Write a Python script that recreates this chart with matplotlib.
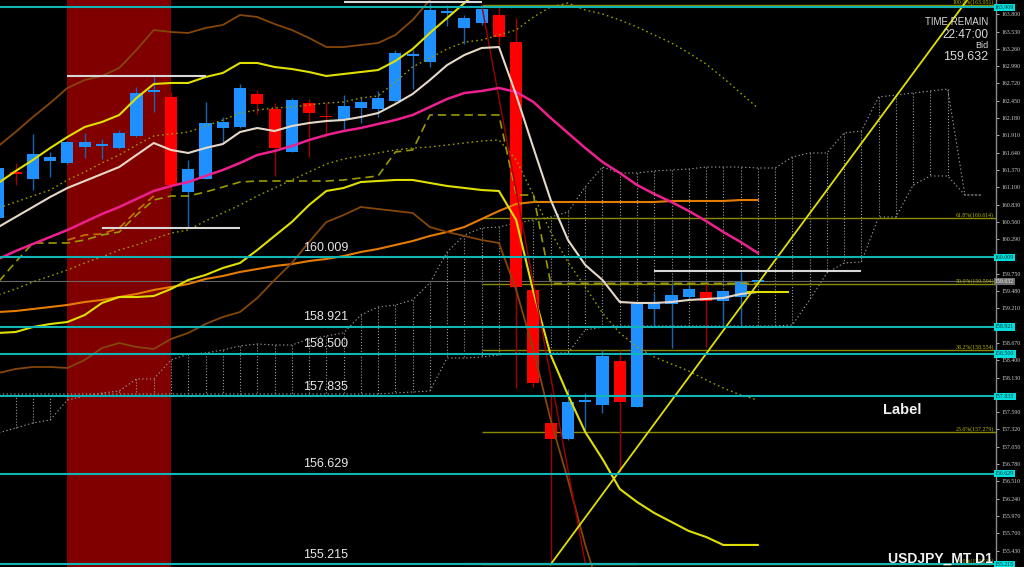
import matplotlib.pyplot as plt
from matplotlib.transforms import blended_transform_factory

plt.rcParams['font.family'] = ['Liberation Sans', 'DejaVu Sans']

# daily bars, USDJPY (prices)
bar_open = [160.620, 161.338, 161.229, 161.510, 161.479, 161.729, 161.744, 161.713, 161.900, 162.587,
            162.509, 161.026, 161.229, 162.025, 162.041, 162.556, 162.322, 161.651, 162.415, 162.200,
            162.150, 162.337, 162.322, 162.447, 163.149, 163.055, 163.820, 163.586, 163.664, 163.789,
            163.367, 159.497, 157.421, 157.171, 157.749, 157.702, 158.389, 157.671, 159.200, 159.278,
            159.387, 159.466, 159.325, 159.387, 159.622]
bar_high = [161.448, 161.479, 161.932, 161.651, 161.822, 161.947, 161.853, 161.994, 162.665, 162.821,
            162.587, 161.526, 162.431, 162.197, 162.712, 162.618, 162.415, 162.493, 162.478, 162.431,
            162.540, 162.509, 162.603, 163.243, 163.243, 163.976, 163.945, 163.789, 163.898, 163.914,
            163.742, 159.528, 157.889, 157.951, 157.889, 158.560, 158.560, 159.309, 159.450, 159.600,
            159.575, 159.606, 159.497, 159.778, 159.645]
bar_low = [160.558, 161.136, 161.057, 161.260, 161.463, 161.557, 161.541, 161.697, 161.885, 162.275,
           161.057, 160.480, 161.229, 161.791, 162.025, 162.244, 161.276, 161.651, 161.573, 161.885,
           162.010, 162.103, 162.197, 162.431, 162.634, 162.977, 163.617, 163.336, 163.633, 163.321,
           157.967, 157.983, 155.215, 157.155, 157.312, 157.577, 156.656, 157.671, 158.935, 158.591,
           159.341, 158.607, 158.935, 158.919, 159.610]
bar_close = [161.401, 161.307, 161.619, 161.573, 161.807, 161.807, 161.750, 161.947, 162.571, 162.603,
             161.136, 161.385, 162.103, 162.119, 162.650, 162.400, 161.713, 162.462, 162.259, 162.190,
             162.369, 162.431, 162.493, 163.196, 163.158, 163.867, 163.851, 163.742, 163.883, 163.446,
             159.543, 158.045, 157.171, 157.749, 157.780, 158.467, 157.749, 159.309, 159.294, 159.419,
             159.512, 159.325, 159.481, 159.622, 159.632]

# moving averages
ma_pink = [159.981, 160.105, 160.215, 160.324, 160.433, 160.558, 160.683, 160.792, 160.917, 161.042,
           161.120, 161.182, 161.276, 161.370, 161.479, 161.604, 161.666, 161.744, 161.838, 161.916,
           161.978, 162.025, 162.088, 162.150, 162.228, 162.353, 162.478, 162.571, 162.603, 162.650,
           162.587, 162.431, 162.181, 161.947, 161.713, 161.495, 161.323, 161.136, 160.995, 160.870,
           160.730, 160.574, 160.402, 160.246, 160.074]
ma_fast = [160.480, 160.636, 160.792, 160.948, 161.089, 161.198, 161.307, 161.416, 161.604, 161.791,
           161.682, 161.635, 161.713, 161.775, 161.963, 162.025, 161.978, 162.056, 162.103, 162.134,
           162.150, 162.197, 162.259, 162.400, 162.556, 162.774, 163.008, 163.165, 163.274, 163.289,
           162.540, 161.713, 160.901, 160.277, 159.887, 159.653, 159.309, 159.294, 159.294, 159.309,
           159.341, 159.356, 159.372, 159.434, 159.466]
ma_long = [159.153, 159.169, 159.200, 159.231, 159.263, 159.309, 159.341, 159.387, 159.434, 159.497,
           159.543, 159.590, 159.668, 159.715, 159.778, 159.824, 159.871, 159.902, 159.949, 159.981,
           160.027, 160.090, 160.137, 160.199, 160.261, 160.340, 160.402, 160.480, 160.605, 160.730,
           160.839, 160.870, 160.870, 160.870, 160.870, 160.870, 160.870, 160.870, 160.870, 160.886,
           160.886, 160.886, 160.886, 160.901, 160.901]

# bands
band1_up = [160.777, 160.870, 160.964, 161.057, 161.214, 161.338, 161.479, 161.604, 161.760, 161.900,
            161.932, 161.963, 162.056, 162.150, 162.259, 162.306, 162.337, 162.353, 162.384, 162.415,
            162.431, 162.493, 162.525, 162.743, 162.977, 163.118, 163.258, 163.367, 163.399, 163.477,
            163.555, 163.758, 163.914, 163.976, 163.867, 163.804, 163.711, 163.602, 163.477, 163.352,
            163.196, 163.024, 162.806, 162.571, 162.337]
band1_dn = [159.419, 159.512, 159.622, 159.715, 159.809, 159.918, 160.012, 160.121, 160.199, 160.293,
            160.386, 160.433, 160.574, 160.698, 160.823, 160.964, 161.089, 161.214, 161.338, 161.463,
            161.541, 161.588, 161.635, 161.682, 161.713, 161.729, 161.760, 161.791, 161.822, 161.838,
            161.526, 160.979, 160.402, 159.934, 159.543, 159.138, 158.826, 158.607, 158.451, 158.342,
            158.232, 158.092, 157.967, 157.858, 157.780]
band2_up = [161.167, 161.354, 161.526, 161.713, 161.885, 162.041, 162.119, 162.228, 162.493, 162.712,
            162.728, 162.728, 162.821, 162.884, 163.040, 163.040, 162.977, 162.946, 162.899, 162.837,
            162.868, 162.899, 162.930, 163.071, 163.258, 163.508, 163.742, 163.976, 164.210]
band2_dn = [158.826, 158.841, 158.919, 158.966, 158.997, 159.106, 159.294, 159.387, 159.387, 159.403,
            159.512, 159.653, 159.731, 159.840, 159.918, 160.121, 160.340, 160.558, 160.823, 161.042,
            161.089, 161.182, 161.198, 161.214, 161.214, 161.167, 161.120, 161.089, 161.057, 161.042,
            160.589, 159.466, 158.482, 157.858, 157.280, 156.859, 156.391, 156.188, 156.016, 155.876,
            155.735, 155.642, 155.517, 155.517, 155.517]
band3_up = [161.744, 161.963, 162.197, 162.415, 162.650, 162.774, 162.837, 162.962, 163.243, 163.555,
            163.524, 163.508, 163.586, 163.633, 163.789, 163.758, 163.648, 163.555, 163.430, 163.289,
            163.289, 163.321, 163.352, 163.477, 163.711, 164.023, 164.335]
band3_dn = [158.201, 158.264, 158.295, 158.295, 158.279, 158.404, 158.591, 158.669, 158.607, 158.576,
            158.732, 158.826, 158.966, 159.075, 159.153, 159.372, 159.653, 159.918, 160.246, 160.558,
            160.667, 160.792, 160.761, 160.730, 160.699, 160.480, 160.402, 160.340, 160.277, 160.230,
            159.497, 158.560, 157.468, 156.531, 155.517, 154.658]

# ichimoku
kijun = [159.622, 159.934, 160.230, 160.230, 160.230, 160.277, 160.355, 160.402, 160.667, 160.901,
         160.964, 160.964, 161.026, 161.104, 161.182, 161.198, 161.198, 161.198, 161.198, 161.198,
         161.214, 161.245, 161.276, 161.651, 161.682, 162.228, 162.228, 162.228, 162.228, 162.228,
         160.979, 160.979, 159.600, 159.600, 159.600, 159.600, 159.600, 159.600, 159.600, 159.600,
         159.600, 159.600, 159.600, 159.600, 159.600]
tenkan_idx = [4, 5, 6, 7, 8, 9]
tenkan = [160.277, 160.355, 160.371, 160.464, 160.730, 160.964]
span_a = [157.265, 157.343, 157.421, 157.468, 157.780, 157.842, 157.889, 157.920, 158.108, 158.108,
          158.404, 158.498, 158.513, 158.560, 158.623, 158.654, 158.638, 158.638, 158.732, 158.779,
          158.826, 159.106, 159.231, 159.263, 159.341, 159.606, 160.090, 160.355, 160.464, 160.480,
          160.542, 160.589, 160.636, 160.714, 161.104, 161.416, 161.323, 161.323, 161.354, 161.370,
          161.385, 161.416, 161.416, 161.416, 161.401, 161.401, 161.573, 161.635, 161.635, 161.947,
          161.978, 162.509, 162.540, 162.571, 162.603, 162.634, 160.979, 160.979]
span_b = [157.873, 157.873, 157.873, 157.873, 157.873, 157.873, 157.873, 157.873, 157.873, 157.873,
          157.873, 157.873, 157.873, 157.873, 157.873, 157.873, 157.873, 157.873, 157.873, 157.873,
          157.873, 157.873, 157.873, 157.889, 157.905, 157.920, 158.435, 158.435, 158.451, 158.482,
          158.513, 158.498, 158.513, 158.513, 158.872, 158.919, 158.935, 158.935, 158.935, 158.935,
          158.935, 158.935, 158.935, 158.935, 158.935, 158.935, 158.950, 159.341, 159.762, 159.918,
          159.934, 160.636, 160.636, 161.136, 161.276, 161.276, 160.979, 160.979]

# horizontal levels
levels = [163.909, 160.009, 158.921, 158.500, 157.835, 156.629, 155.215]
fib_start = 28
fib_prices = [163.951, 160.614, 159.594, 158.554, 157.279, 155.215]
fib_names = ['100.0%', '61.8%', '50.0%', '38.2%', '23.6%', '0.0%']
bid = 159.632

# short white lines (old highs / lows)
seg_start = [4, 6, 20, 38, 27]
seg_end = [12, 14, 28, 50, 37]
seg_price = [162.837, 160.464, 163.992, 159.793, 155.215]

trend_idx = [32, 56, 57.5]
trend_price = [155.215, 163.976, 164.52]
red_idx = [28, 34]
red_price = [163.945, 155.236]

# price scale labels that are not hidden behind the level boxes
y_ticks = [155.430, 155.700, 155.970, 156.240, 156.510, 156.780, 157.050, 157.320, 157.590,
           158.130, 158.400, 158.670, 159.210, 159.480, 159.750, 160.290, 160.560,
           160.830, 161.100, 161.370, 161.640, 161.910, 162.180, 162.450, 162.720, 162.990, 163.260,
           163.530, 163.800]

fig = plt.figure(figsize=(10.24, 5.67), dpi=100, facecolor='black')
ax = fig.add_axes([0, 0, 996 / 1024, 1], facecolor='black')
ax.set_xlim(0.093, 57.8)
ax.set_ylim(155.173, 164.023)
trans = blended_transform_factory(ax.transAxes, ax.transData)

ax.axvspan(3.96, 9.98, color='#800000', lw=0, zorder=0)

# cloud
cloud_idx = list(range(len(span_a)))
dot = (0, (1.2, 2.2))
ax.plot(cloud_idx, span_a, color='#9a9a9a', lw=0.8, ls=dot, zorder=1)
ax.plot(cloud_idx, span_b, color='#9a9a9a', lw=0.8, ls=dot, zorder=1)
ax.vlines(cloud_idx, span_a, span_b, colors='#9a9a9a', lw=0.8, linestyles='dotted', zorder=1)

ax.axhline(bid, color='#666666', lw=0.8, zorder=1.2)
ax.hlines(fib_prices, fib_start, 57.8, colors='#8a8a00', lw=1.0, zorder=1.3)

# candles
for i, (o, h, l, c) in enumerate(zip(bar_open, bar_high, bar_low, bar_close)):
    up = c >= o
    body = '#1e90ff' if up else '#ff0000'
    wick = '#1b64b0' if up else '#a00000'
    ax.vlines(i, l, h, colors=wick, lw=1.0, zorder=2)
    ax.bar(i, max(abs(c - o), 0.028), bottom=min(o, c), width=0.7, color=body, lw=0, zorder=2.2)

# indicator lines
bar_idx = list(range(len(bar_open)))
ax.plot(bar_idx, ma_long, color='#e57c00', lw=1.5, zorder=3)
ax.plot(bar_idx, band1_up, color='#9a9a00', lw=1.0, ls=dot, zorder=3)
ax.plot(bar_idx, band1_dn, color='#9a9a00', lw=1.0, ls=dot, zorder=3)
ax.plot(range(len(band2_up)), band2_up, color='#e0e000', lw=1.5, zorder=3)
ax.plot(bar_idx, band2_dn, color='#e0e000', lw=1.5, zorder=3)
ax.plot(range(len(band3_up)), band3_up, color='#84460a', lw=1.3, zorder=3)
ax.plot(range(len(band3_dn)), band3_dn, color='#84460a', lw=1.3, zorder=3)
ax.plot(bar_idx, kijun, color='#9a9a00', lw=1.2, ls=(0, (5, 3)), zorder=3)
ax.plot(tenkan_idx, tenkan, color='#c87000', lw=1.2, ls=(0, (5, 3)), zorder=3)
ax.plot(bar_idx, ma_pink, color='#ee2090', lw=1.8, zorder=3.2)
ax.plot(bar_idx, ma_fast, color='#e6d8c8', lw=1.5, zorder=3.2)
ax.plot(red_idx, red_price, color='#a00000', lw=1.0, zorder=3)
ax.plot(trend_idx, trend_price, color='#e0e000', lw=1.3, zorder=3.3)
ax.hlines(159.466, 43.4, 45.8, colors='#e0e000', lw=1.5, zorder=3.3)
ax.hlines(seg_price, seg_start, seg_end, colors='#d8d8d8', lw=1.5, zorder=3.4)

# cyan levels + labels
for lvl in levels:
    ax.axhline(lvl, color='#12b5b5', lw=1.5, zorder=4)
    ax.text(0.999, lvl, f'{lvl:.3f}', transform=trans, ha='left', va='center', fontsize=4.2,
            color='#003030', family=['Liberation Serif'], clip_on=False, zorder=6,
            bbox=dict(boxstyle='square,pad=0.2', fc='#00dede', ec='none'))
    if lvl < 163:
        ax.annotate(f'{lvl:.3f}', xy=(0.304, lvl), xycoords=trans, xytext=(0, 2.5),
                    textcoords='offset points', ha='left', va='bottom', fontsize=9,
                    color='#e6e6e6', zorder=5)

for p, name in zip(fib_prices, fib_names):
    ax.text(0.998, p, f'{name}({p:.3f})', transform=trans, ha='right', va='bottom',
            fontsize=4.2, color='#b8b800', family=['Liberation Serif'], zorder=5)

ax.text(0.999, bid, f'{bid:.3f}', transform=trans, ha='left', va='center', fontsize=4.2,
        color='#f0f0f0', family=['Liberation Serif'], clip_on=False, zorder=6,
        bbox=dict(boxstyle='square,pad=0.2', fc='#707070', ec='none'))

# price axis on the right
ax.yaxis.tick_right()
ax.set_yticks(y_ticks)
ax.set_yticklabels([f'{v:.3f}' for v in y_ticks])
ax.tick_params(axis='y', colors='#cfcfcf', labelsize=4.2, length=2.5, width=0.6, pad=1.5,
               labelfontfamily='Liberation Serif')
ax.tick_params(axis='x', bottom=False, labelbottom=False)
for side in ['top', 'bottom', 'left']:
    ax.spines[side].set_visible(False)
ax.spines['right'].set_color('#8a8a8a')
ax.spines['right'].set_linewidth(1.0)

# info text
fig.text(988 / 1024, 1 - 17 / 567, 'TIME REMAIN', ha='right', va='top', fontsize=7, color='#d8d8d8')
fig.text(988 / 1024, 1 - 29 / 567, '22:47:00', ha='right', va='top', fontsize=8.5, color='#d8d8d8')
fig.text(988 / 1024, 1 - 41.5 / 567, 'Bid', ha='right', va='top', fontsize=6.5, color='#d8d8d8')
fig.text(988 / 1024, 1 - 50.5 / 567, '159.632', ha='right', va='top', fontsize=9, color='#d8d8d8')
fig.text(883 / 1024, 1 - 403 / 567, 'Label', ha='left', va='top', fontsize=10.5,
         fontweight='bold', color='#f0f0f0')
fig.text(993 / 1024, 1 - 566 / 567, 'USDJPY_MT D1', ha='right', va='bottom', fontsize=10,
         fontweight='bold', color='#f0f0f0')

fig.savefig('out.png', dpi=100, facecolor='black')
